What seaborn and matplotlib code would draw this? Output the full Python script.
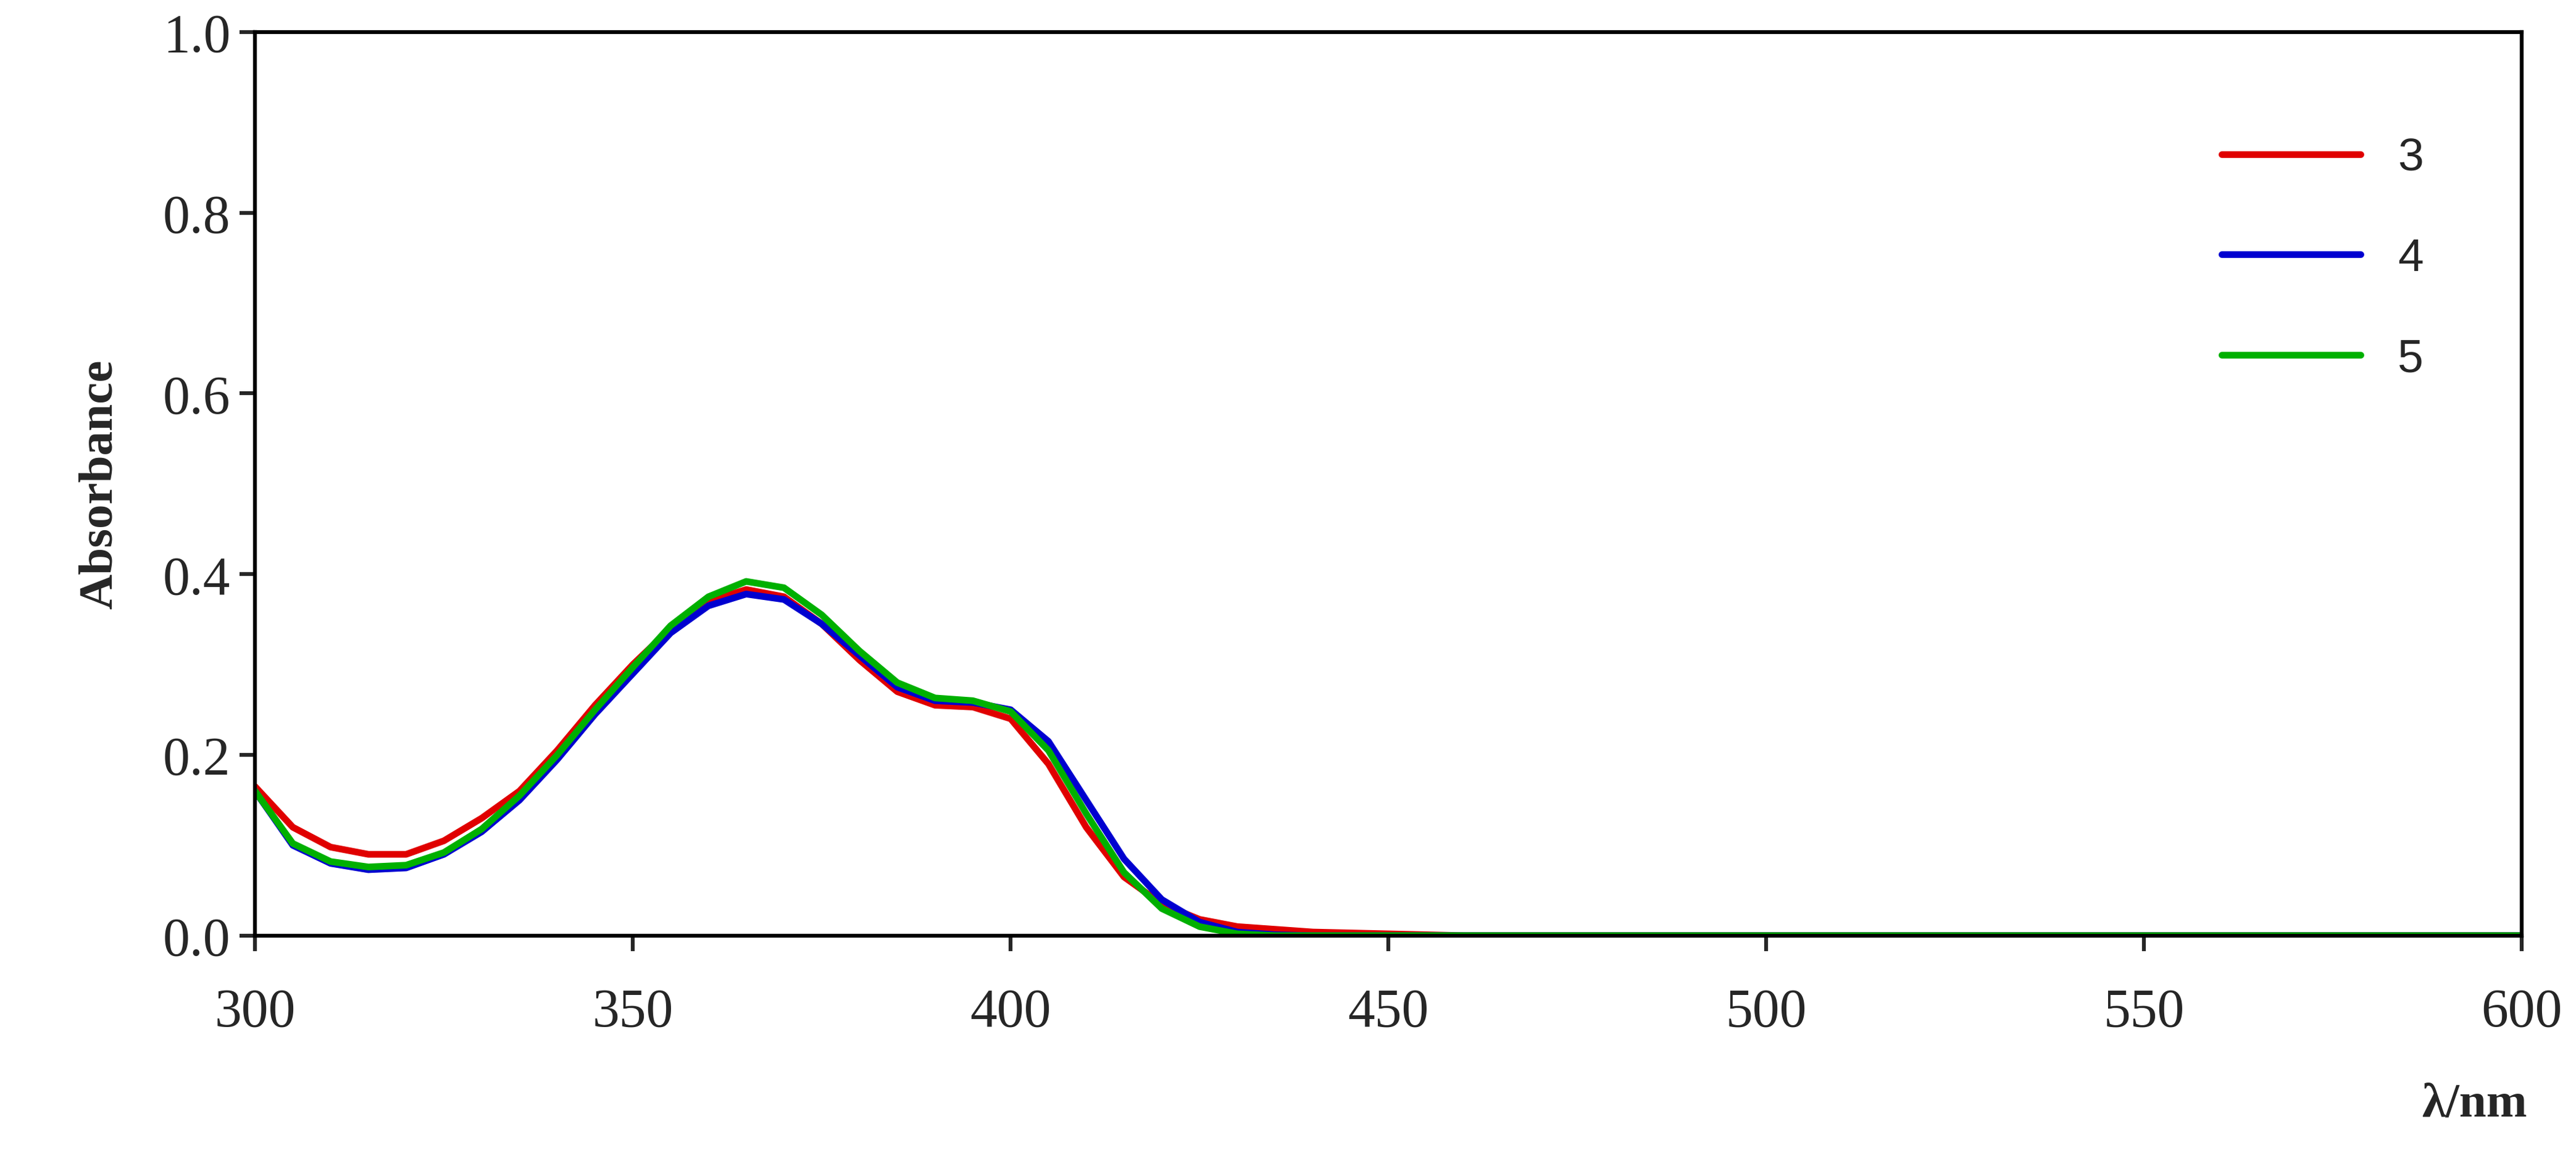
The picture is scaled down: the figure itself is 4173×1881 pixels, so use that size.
import numpy as np
import pandas as pd
import seaborn as sns
import matplotlib.pyplot as plt

wavelength = [300, 305, 310, 315, 320, 325, 330, 335, 340, 345, 350, 355, 360, 365, 370,
              375, 380, 385, 390, 395, 400, 405, 410, 415, 420, 425, 430, 435, 440, 450,
              455, 460, 500, 550, 600]
abs_3 = [0.165, 0.120, 0.098, 0.090, 0.090, 0.105, 0.130, 0.160, 0.205, 0.255, 0.300, 0.340,
         0.370, 0.383, 0.375, 0.345, 0.305, 0.270, 0.255, 0.253, 0.240, 0.190, 0.120, 0.065,
         0.035, 0.018, 0.010, 0.007, 0.004, 0.002, 0.001, 0.0, 0.0, 0.0, 0.0]
abs_4 = [0.160, 0.100, 0.080, 0.073, 0.075, 0.090, 0.115, 0.150, 0.195, 0.245, 0.290, 0.335,
         0.365, 0.378, 0.372, 0.345, 0.310, 0.275, 0.260, 0.258, 0.250, 0.215, 0.150, 0.085,
         0.040, 0.015, 0.004, 0.001, 0.0, 0.0, 0.0, 0.0, 0.0, 0.0, 0.0]
abs_5 = [0.160, 0.102, 0.082, 0.076, 0.078, 0.092, 0.118, 0.155, 0.200, 0.250, 0.297, 0.343,
         0.375, 0.392, 0.385, 0.355, 0.315, 0.280, 0.263, 0.260, 0.248, 0.205, 0.135, 0.070,
         0.030, 0.010, 0.002, 0.0, 0.0, 0.0, 0.0, 0.0, 0.0, 0.0, 0.0]

df = pd.DataFrame({'wl': wavelength * 3,
                   'A': abs_3 + abs_4 + abs_5,
                   'series': ['3'] * len(wavelength) + ['4'] * len(wavelength) + ['5'] * len(wavelength)})

sns.set_style('white')
plt.rcParams['font.family'] = ['Liberation Serif', 'DejaVu Serif']

fig = plt.figure(figsize=(13.91, 6.273), dpi=300)
ax = fig.add_axes([0.099, 0.194, 0.880, 0.778])
sns.lineplot(data=df, x='wl', y='A', hue='series',
             palette={'3': '#e00000', '4': '#0000d0', '5': '#00b000'},
             linewidth=2.6, ax=ax)

ax.set_xlim(300, 600)
ax.set_ylim(0, 1.0)
ax.set_xticks(np.arange(300, 601, 50))
ax.set_yticks(np.arange(0, 1.01, 0.2))
ax.set_yticklabels([f'{v:.1f}' for v in np.arange(0, 1.01, 0.2)])
ax.tick_params(axis='both', direction='out', length=6, width=1.5, labelsize=21,
               left=True, bottom=True)
ax.tick_params(axis='x', pad=14)
for s in ax.spines.values():
    s.set_linewidth(1.5)
    s.set_color('black')
ax.set_xlabel('')
ax.set_ylabel('Absorbance', fontsize=19, fontweight='bold', labelpad=16)
fig.text(0.981, 0.03, 'λ/nm', fontsize=19, fontweight='bold', ha='right', va='bottom')

leg = ax.legend(loc='upper right', bbox_to_anchor=(0.975, 0.93), frameon=False,
                handlelength=3.0, labelspacing=1.25, title=None,
                prop={'family': 'Liberation Sans', 'size': 18})
for line in leg.get_lines():
    line.set_linewidth(2.6)

fig.savefig('out.png', dpi=300)
